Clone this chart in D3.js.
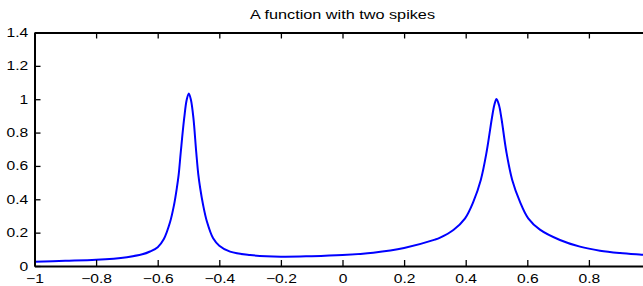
<!DOCTYPE html>
<html>
<head>
<meta charset="utf-8">
<script src="https://cdn.jsdelivr.net/npm/d3@7"></script>
<style>
  body { margin: 0; background: #fff; }
  svg { display: block; font-family: "Liberation Sans", Arial, sans-serif; }
</style>
</head>
<body>
<svg id="chart" width="643" height="286"></svg>
<script>
// x positions and function values
const xValues = [
  -1.00, -0.90, -0.80, -0.70, -0.65, -0.625, -0.60, -0.58, -0.56, -0.547,
  -0.538, -0.532, -0.525, -0.514, -0.506, -0.499, -0.492, -0.484, -0.475, -0.468,
  -0.462, -0.453, -0.440, -0.420, -0.40, -0.365, -0.30, -0.20, -0.10, 0.00,
  0.10, 0.20, 0.30, 0.317, 0.36, 0.398, 0.425, 0.449, 0.468, 0.485,
  0.493, 0.500, 0.508, 0.516, 0.532, 0.551, 0.576, 0.603, 0.641, 0.706,
  0.771, 0.836, 0.901, 0.971, 1.00
];
const yValues = [
  0.026, 0.031, 0.037, 0.053, 0.070, 0.087, 0.113, 0.162, 0.262, 0.366,
  0.466, 0.546, 0.685, 0.886, 0.995, 1.035, 0.995, 0.886, 0.685, 0.546,
  0.466, 0.370, 0.265, 0.166, 0.122, 0.086, 0.066, 0.056, 0.059, 0.066,
  0.080, 0.108, 0.158, 0.170, 0.216, 0.286, 0.386, 0.516, 0.685, 0.886,
  0.965, 1.001, 0.965, 0.886, 0.685, 0.516, 0.386, 0.286, 0.218, 0.156,
  0.116, 0.092, 0.078, 0.068, 0.064
];
const xTicks = [-1, -0.8, -0.6, -0.4, -0.2, 0, 0.2, 0.4, 0.6, 0.8];
const yTicks = [0, 0.2, 0.4, 0.6, 0.8, 1, 1.2, 1.4];
const title = "A function with two spikes";

const svg = d3.select("#chart");

// plot box (right edge falls outside the picture)
const plotLeft = 34.5, plotRight = 650.5, plotTop = 32.5, plotBottom = 266;
// the reference text looks stretched sideways
const stretch = 1.25;

const x = d3.scaleLinear().domain([-1, 1]).range([plotLeft, plotRight]);
const y = d3.scaleLinear().domain([0, 1.4]).range([plotBottom, plotTop]);

const points = xValues.map((v, i) => [v, yValues[i]]);

// curve
svg.append("defs").append("clipPath").attr("id", "plotclip")
  .append("rect")
    .attr("x", plotLeft).attr("y", plotTop)
    .attr("width", plotRight - plotLeft).attr("height", plotBottom - plotTop);

svg.append("path")
  .datum(points)
  .attr("clip-path", "url(#plotclip)")
  .attr("fill", "none")
  .attr("stroke", "#0000ff")
  .attr("stroke-width", 2)
  .attr("d", d3.line()
    .x(d => x(d[0]))
    .y(d => y(d[1]))
    .curve(d3.curveCatmullRom.alpha(0.5)));

// axes, ticks pointing inward like matlab
const fmt = d3.format("");

const xAxis = svg.append("g")
  .attr("transform", `translate(0,${plotBottom})`)
  .call(d3.axisBottom(x).tickValues(xTicks).tickFormat(fmt)
    .tickSizeInner(-6).tickSizeOuter(0).tickPadding(8));

const topAxis = svg.append("g")
  .attr("transform", `translate(0,${plotTop})`)
  .call(d3.axisTop(x).tickValues(xTicks).tickFormat("")
    .tickSizeInner(-6).tickSizeOuter(0));

const yAxis = svg.append("g")
  .attr("transform", `translate(${plotLeft},0)`)
  .call(d3.axisLeft(y).tickValues(yTicks).tickFormat(fmt)
    .tickSizeInner(-6).tickSizeOuter(0).tickPadding(5));

[xAxis, topAxis, yAxis].forEach(g => {
  g.select(".domain").attr("stroke", "#000").attr("stroke-width", 2);
  g.selectAll(".tick line").attr("stroke", "#000").attr("stroke-width", 1.3);
  g.selectAll(".tick text")
    .attr("fill", "#000")
    .attr("transform", `scale(${stretch},1)`)
    .style("font-family", "'Liberation Sans', Arial, sans-serif")
    .style("font-size", "12.5px");
});

// title
svg.append("text")
  .attr("transform", `translate(${(plotLeft + plotRight) / 2},19) scale(${stretch},1)`)
  .attr("text-anchor", "middle")
  .style("font-size", "13px")
  .attr("fill", "#000")
  .text(title);
</script>
</body>
</html>
